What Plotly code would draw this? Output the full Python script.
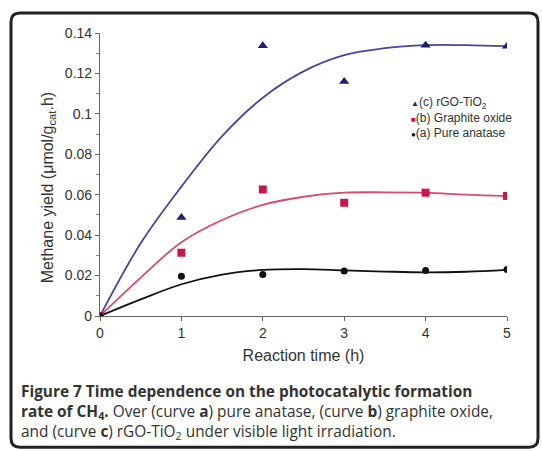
import plotly.graph_objects as go

# Measured data points
time_h = [0, 1, 2, 3, 4, 5]
rgo_tio2 = [0, 0.0487, 0.1337, 0.116, 0.134, 0.1335]
graphite_oxide = [0, 0.0313, 0.0626, 0.056, 0.061, 0.0594]
pure_anatase = [0, 0.0197, 0.0205, 0.0223, 0.0225, 0.023]

# Fitted trend curves
fit_x = [0, 0.5, 1, 1.5, 2, 2.5, 3, 3.5, 4, 4.5, 5]
fit_c = [0, 0.036, 0.064, 0.089, 0.108, 0.121, 0.129, 0.1325, 0.134, 0.134, 0.1335]
fit_b = [0, 0.019, 0.0365, 0.0475, 0.055, 0.059, 0.061, 0.0612, 0.061, 0.060, 0.0593]
fit_a = [0, 0.0082, 0.0157, 0.0205, 0.0228, 0.0232, 0.0226, 0.0220, 0.0216, 0.0219, 0.0228]

x_ticks = [0, 1, 2, 3, 4, 5]

W, H = 542, 451
L, R, T, B = 100, 35, 33, 134.5
pw, ph = W - L - R, H - T - B

def px(x):
    return (x - L) / pw

def py(y):
    return (H - B - y) / ph

C_BLUE_LINE, C_RED_LINE, C_BLACK = "#48469f", "#d64c6c", "#111111"
C_TRI, C_SQ = "#1d1f78", "#c8174c"

fig = go.Figure()

fig.add_trace(go.Scatter(x=fit_x, y=fit_c, mode="lines", line=dict(color=C_BLUE_LINE, width=1.8, shape="spline"), showlegend=False, hoverinfo="skip"))
fig.add_trace(go.Scatter(x=fit_x, y=fit_b, mode="lines", line=dict(color=C_RED_LINE, width=1.8, shape="spline"), showlegend=False, hoverinfo="skip"))
fig.add_trace(go.Scatter(x=fit_x, y=fit_a, mode="lines", line=dict(color=C_BLACK, width=1.8, shape="spline"), showlegend=False, hoverinfo="skip"))

fig.add_trace(go.Scatter(x=time_h, y=rgo_tio2, mode="markers", showlegend=False,
                         marker=dict(symbol="triangle-up", size=9, color=C_TRI)))
fig.add_trace(go.Scatter(x=time_h, y=graphite_oxide, mode="markers", showlegend=False,
                         marker=dict(symbol="square", size=8, color=C_SQ)))
fig.add_trace(go.Scatter(x=time_h, y=pure_anatase, mode="markers", showlegend=False,
                         marker=dict(symbol="circle", size=7, color=C_BLACK)))

# legend (as text with coloured symbols)
legend_text = (f"<span style='color:{C_TRI};font-size:8px'>▲</span>(c) rGO-TiO<sub>2</sub><br>"
               f"<span style='color:{C_SQ};font-size:8px'>■</span>(b) Graphite oxide<br>"
               f"<span style='color:{C_BLACK};font-size:8px'>●</span>(a) Pure anatase")
fig.add_annotation(text=legend_text, xref="paper", yref="paper", x=px(409), y=py(93),
                   xanchor="left", yanchor="top", showarrow=False, align="left",
                   font=dict(family="Arial", size=12, color="#333333"))

# y-axis title
fig.add_annotation(text="Methane yield (μmol/g<sub>cat</sub>.h)", xref="paper", yref="paper",
                   x=px(37), y=py(188), textangle=-90, showarrow=False,
                   font=dict(family="Arial", size=16, color="#333333"))

# rounded border box
x0, y0, x1, y1, r = 11, 13, 538, 448, 9
path = (f"M {px(x0+r)} {py(y0)} L {px(x1-r)} {py(y0)} Q {px(x1)} {py(y0)} {px(x1)} {py(y0+r)} "
        f"L {px(x1)} {py(y1-r)} Q {px(x1)} {py(y1)} {px(x1-r)} {py(y1)} "
        f"L {px(x0+r)} {py(y1)} Q {px(x0)} {py(y1)} {px(x0)} {py(y1-r)} "
        f"L {px(x0)} {py(y0+r)} Q {px(x0)} {py(y0)} {px(x0+r)} {py(y0)} Z")
fig.add_shape(type="path", path=path, xref="paper", yref="paper",
              line=dict(color="#222222", width=3), layer="below")

caption = ("<b>Figure 7 Time dependence on the photocatalytic formation</b><br>"
           "<b>rate of CH<sub>4</sub>.</b> Over (curve <b>a</b>) pure anatase, (curve <b>b</b>) graphite oxide,<br>"
           "and (curve <b>c</b>) rGO-TiO<sub>2</sub> under visible light irradiation.")
fig.add_annotation(text=caption, xref="paper", yref="paper", x=px(19), y=py(380),
                   xanchor="left", yanchor="top", showarrow=False, align="left",
                   font=dict(family="Open Sans", size=15.4, color="#333333"))

axis_font = dict(family="Arial", size=14, color="#333333")
fig.update_layout(
    width=W, height=H,
    margin=dict(l=L, r=R, t=T, b=B),
    paper_bgcolor="white", plot_bgcolor="white",
    xaxis=dict(range=[0, 5], tickvals=x_ticks, showgrid=False, zeroline=False,
               showline=True, linecolor="#666666", linewidth=1.2,
               ticks="outside", ticklen=4, tickcolor="#666666",
               tickfont=axis_font,
               title=dict(text="Reaction time (h)", font=dict(family="Arial", size=16, color="#333333"), standoff=9)),
    yaxis=dict(range=[0, 0.14], dtick=0.02, showgrid=False, zeroline=False,
               showline=True, linecolor="#666666", linewidth=1.2,
               ticks="outside", ticklen=4, tickcolor="#666666",
               minor=dict(dtick=0.01, ticks="outside", ticklen=3, tickcolor="#888888"),
               tickfont=axis_font),
    showlegend=False,
)

fig.write_html("out.html", config={"displayModeBar": False},
               post_script="document.body.style.margin='0';document.body.style.padding='0';")
